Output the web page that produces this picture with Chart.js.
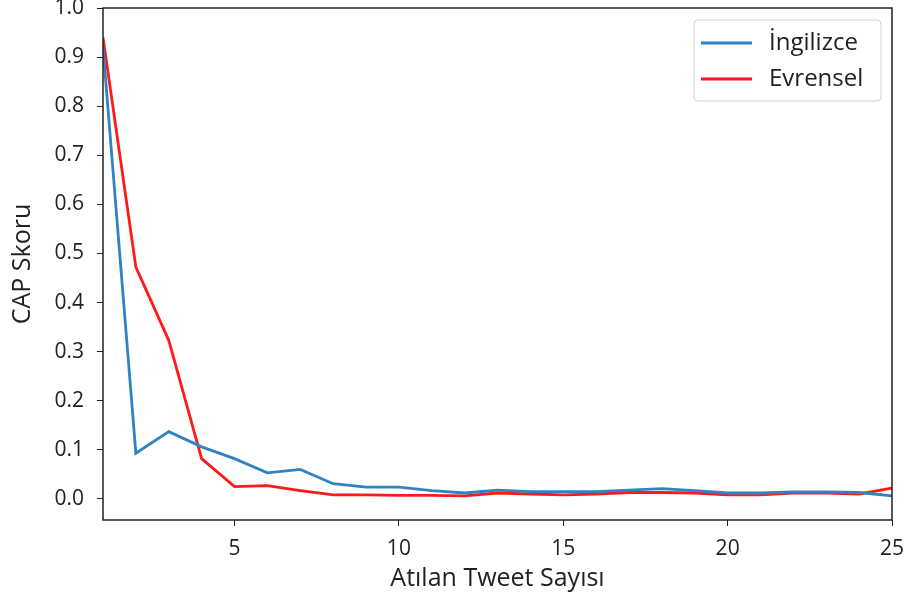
<!DOCTYPE html>
<html lang="tr">
<head>
  <meta charset="UTF-8" />
  <title>CAP Skoru</title>
  <script src="https://cdn.jsdelivr.net/npm/chart.js"></script>
  <style>
    body { margin: 0; background: #fff; }
    .wrap { width: 907px; height: 603px; position: relative; }
  </style>
</head>
<body>
<div class="wrap"><canvas id="chart" width="907" height="603"></canvas></div>

<script>
const tweetCounts = [1,2,3,4,5,6,7,8,9,10,11,12,13,14,15,16,17,18,19,20,21,22,23,24,25];
const ingilizce = [0.92,0.093,0.137,0.106,0.082,0.053,0.060,0.031,0.024,0.024,0.017,0.012,0.018,0.015,0.015,0.015,0.018,0.021,0.017,0.012,0.012,0.014,0.014,0.013,0.006];
const evrensel  = [0.94,0.472,0.323,0.082,0.025,0.027,0.017,0.008,0.008,0.007,0.007,0.006,0.012,0.010,0.008,0.010,0.013,0.013,0.012,0.008,0.008,0.012,0.012,0.010,0.022];
const xTicks = [5,10,15,20,25];
const yTicks = [0,0.1,0.2,0.3,0.4,0.5,0.6,0.7,0.8,0.9,1.0];

const font = "'Open Sans', sans-serif";
const ink = "#222";

// box around the plot, like matplotlib spines
const frame = {
  id: "frame",
  afterDraw(chart) {
    const a = chart.chartArea, ctx = chart.ctx;
    ctx.save();
    ctx.strokeStyle = ink;
    ctx.lineWidth = 1.5;
    ctx.strokeRect(a.left, a.top, a.right - a.left, a.bottom - a.top);
    ctx.restore();
  }
};

// legend in upper right corner of the axes
const innerLegend = {
  id: "innerLegend",
  afterDraw(chart) {
    const ctx = chart.ctx, a = chart.chartArea;
    const x = a.right - 198, y = a.top + 12, w = 187, h = 81;
    ctx.save();
    ctx.fillStyle = "rgba(255,255,255,0.85)";
    ctx.strokeStyle = "#d0d0d0";
    ctx.lineWidth = 1;
    ctx.beginPath();
    ctx.roundRect(x, y, w, h, 4);
    ctx.fill();
    ctx.stroke();
    ctx.font = "24px " + font;
    ctx.textBaseline = "middle";
    chart.data.datasets.forEach((ds, i) => {
      const ly = y + 23 + i * 36;
      ctx.strokeStyle = ds.borderColor;
      ctx.lineWidth = 2.8;
      ctx.beginPath();
      ctx.moveTo(x + 7, ly);
      ctx.lineTo(x + 58, ly);
      ctx.stroke();
      ctx.fillStyle = ink;
      ctx.fillText(ds.label, x + 75, ly);
    });
    ctx.restore();
  }
};

const ctx = document.getElementById("chart").getContext("2d");
new Chart(ctx, {
  type: "line",
  data: {
    datasets: [
      {
        label: "İngilizce",
        data: tweetCounts.map((t, i) => ({ x: t, y: ingilizce[i] })),
        borderColor: "#3182c0",
        borderWidth: 2.8,
        pointRadius: 0,
        tension: 0,
        fill: false
      },
      {
        label: "Evrensel",
        data: tweetCounts.map((t, i) => ({ x: t, y: evrensel[i] })),
        borderColor: "#ff1a1a",
        borderWidth: 2.8,
        pointRadius: 0,
        tension: 0,
        fill: false
      }
    ]
  },
  options: {
    responsive: false,
    animation: false,
    layout: { padding: { top: 8, right: 15, left: 0, bottom: 0 } },
    plugins: {
      legend: { display: false },
      tooltip: { enabled: false }
    },
    scales: {
      x: {
        type: "linear",
        min: 1,
        max: 25,
        afterBuildTicks(s) { s.ticks = xTicks.map(v => ({ value: v })); },
        afterFit(s) { s.height = 83; s.paddingLeft = 0; s.paddingRight = 0; },
        grid: { drawOnChartArea: false, tickLength: 6, tickColor: ink, color: ink },
        border: { display: false },
        ticks: { color: ink, font: { family: font, size: 21 }, padding: 10, maxRotation: 0 },
        title: {
          display: true,
          text: "Atılan Tweet Sayısı",
          color: ink,
          font: { family: font, size: 25 },
          padding: { top: 2, bottom: 9 }
        }
      },
      y: {
        min: -0.043,
        max: 1.0,
        afterBuildTicks(s) { s.ticks = yTicks.map(v => ({ value: v })); },
        afterFit(s) { s.width = 103; s.paddingTop = 0; s.paddingBottom = 0; },
        grid: { drawOnChartArea: false, tickLength: 6, tickColor: ink, color: ink },
        border: { display: false },
        ticks: {
          color: ink,
          font: { family: font, size: 21 },
          padding: 13,
          callback: v => v.toFixed(1)
        },
        title: {
          display: true,
          text: "CAP Skoru",
          color: ink,
          font: { family: font, size: 25 },
          padding: { top: 8, bottom: 0 }
        }
      }
    }
  },
  plugins: [frame, innerLegend]
});
</script>
</body>
</html>
